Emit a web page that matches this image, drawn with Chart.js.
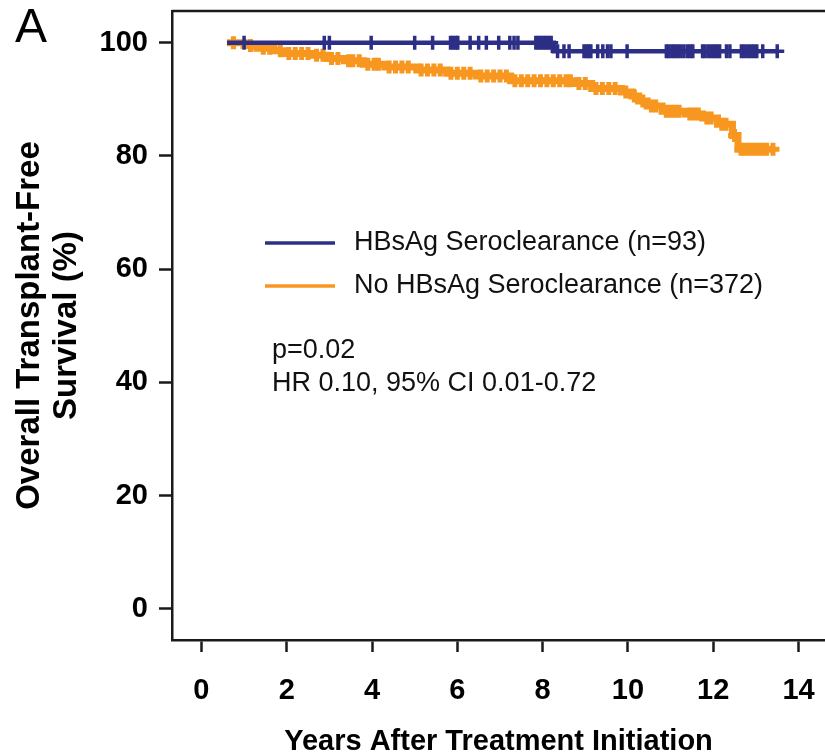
<!DOCTYPE html>
<html lang="en">
<head>
    <meta charset="UTF-8">
    <title>Overall Transplant-Free Survival</title>
    <script src="https://cdn.jsdelivr.net/npm/chart.js"></script>
    <style>
        body { margin: 0; background: #fff; overflow: hidden; }
        canvas { display: block; }
    </style>
</head>
<body>
    <canvas id="kmChart" width="825" height="756"></canvas>

    <script>
        // Kaplan-Meier steps: time (years) and survival (%) after each drop
        var seroTimes = [0.6, 8.26, 13.53];
        var seroSurv = [100, 98.5, 98.5];
        // censored times (the little + marks)
        var seroCensor = [1.0, 2.88, 3.0, 3.98, 5.0, 5.42, 5.84, 5.9, 5.96, 6.01, 6.3, 6.5, 6.68, 6.97,
            7.23, 7.33, 7.42, 7.84, 7.9, 7.96, 8.02, 8.08, 8.14, 8.2, 8.35, 8.5, 8.62, 8.97, 9.03, 9.08,
            9.13, 9.29, 9.41, 9.52, 9.6, 9.98, 10.9, 10.96, 11.03, 11.09, 11.16, 11.23, 11.31, 11.39,
            11.46, 11.52, 11.75, 11.81, 11.89, 11.96, 12.03, 12.09, 12.15, 12.31, 12.39, 12.66, 12.73,
            12.81, 12.88, 12.95, 13.02, 13.16, 13.5];

        var noSeroTimes = [0.6, 1.0, 1.3, 1.7, 1.95, 2.6, 2.95, 3.35, 3.8, 4.3, 5.05, 5.75, 6.45, 7.25,
            8.75, 9.15, 9.85, 10.1, 10.25, 10.45, 10.8, 11.35, 11.75, 12.1, 12.45, 12.58, 13.45];
        var noSeroSurv = [100, 99.5, 99.0, 98.6, 98.1, 97.8, 97.2, 96.8, 96.2, 95.7, 95.2, 94.6, 94.1, 93.3,
            92.8, 91.9, 91.3, 90.6, 89.7, 88.8, 87.9, 87.4, 86.7, 85.6, 83.6, 81.2, 81.2];
        var noSeroCensor = [0.75, 1.15, 1.45, 1.6, 1.85, 2.05, 2.2, 2.35, 2.5, 2.7, 2.85, 3.05, 3.2, 3.45,
            3.55, 3.7, 3.9, 4.05, 4.15, 4.4, 4.55, 4.7, 4.85, 5.15, 5.3, 5.45, 5.6, 5.85, 6.0, 6.15, 6.3,
            6.55, 6.7, 6.85, 7.0, 7.15, 7.35, 7.5, 7.65, 7.8, 7.95, 8.1, 8.25, 8.4, 8.55, 8.65, 8.85, 9.0,
            9.25, 9.4, 9.55, 9.7, 9.95, 10.15, 10.35, 10.55, 10.65, 10.9, 11.0, 11.1, 11.2, 11.45, 11.55,
            11.65, 11.85, 11.95, 12.2, 12.3, 12.5, 12.65, 12.75, 12.85, 12.95, 13.05, 13.15, 13.25, 13.4];

        var xTicks = [0, 2, 4, 6, 8, 10, 12, 14];
        var yTicks = [0, 20, 40, 60, 80, 100];
        var seriesLabels = ['HBsAg Seroclearance (n=93)', 'No HBsAg Seroclearance (n=372)'];
        var statLines = ['p=0.02', 'HR 0.10, 95% CI 0.01-0.72'];
        var panelLetter = 'A';

        var blue = '#2d2f86';
        var orange = '#f8971f';
        var fontFamily = '"Liberation Sans", Arial, sans-serif';

        function toPoints(times, surv) {
            return times.map(function (t, i) { return { x: t, y: surv[i] }; });
        }

        // survival of the step curve at time t (where a censor mark sits)
        function survAt(times, surv, t) {
            var s = surv[0];
            for (var i = 0; i < times.length; i++) {
                if (times[i] <= t) s = surv[i];
            }
            return s;
        }

        function censorPoints(censor, times, surv) {
            return censor.map(function (t) { return { x: t, y: survAt(times, surv, t) }; });
        }

        // top frame line, legend, stats text and panel letter
        var extrasPlugin = {
            id: 'extras',
            afterDatasetsDraw: function (chart) {
                var ctx = chart.ctx;
                var area = chart.chartArea;
                ctx.save();
                ctx.strokeStyle = '#1a1a1a';
                ctx.lineWidth = 2.5;
                ctx.beginPath();
                ctx.moveTo(area.left, area.top);
                ctx.lineTo(area.right, area.top);
                ctx.stroke();

                var legendColors = [blue, orange];
                ctx.font = '27px ' + fontFamily;
                ctx.textBaseline = 'middle';
                ctx.fillStyle = '#111';
                for (var i = 0; i < seriesLabels.length; i++) {
                    var ly = 243 + i * 43;
                    ctx.strokeStyle = legendColors[i];
                    ctx.lineWidth = 3.5;
                    ctx.beginPath();
                    ctx.moveTo(265, ly);
                    ctx.lineTo(335, ly);
                    ctx.stroke();
                    ctx.fillText(seriesLabels[i], 354, ly);
                }
                for (var j = 0; j < statLines.length; j++) {
                    ctx.fillText(statLines[j], 272, 351 + j * 33);
                }
                ctx.font = '48px ' + fontFamily;
                ctx.fillStyle = '#000';
                ctx.fillText(panelLetter, 15, 29);
                ctx.restore();
            }
        };

        var tickFont = { family: fontFamily, size: 29, weight: 'bold' };

        var ctx = document.getElementById('kmChart').getContext('2d');
        var chart = new Chart(ctx, {
            type: 'scatter',
            data: {
                datasets: [
                    {
                        label: seriesLabels[0],
                        data: toPoints(seroTimes, seroSurv),
                        showLine: true,
                        stepped: 'before',
                        borderColor: blue,
                        borderWidth: 4.5,
                        pointRadius: 0
                    },
                    {
                        label: seriesLabels[0] + ' censored',
                        data: censorPoints(seroCensor, seroTimes, seroSurv),
                        showLine: false,
                        pointStyle: 'cross',
                        pointRadius: 7,
                        borderColor: blue,
                        borderWidth: 3.5
                    },
                    {
                        label: seriesLabels[1],
                        data: toPoints(noSeroTimes, noSeroSurv),
                        showLine: true,
                        stepped: 'before',
                        borderColor: orange,
                        borderWidth: 7,
                        pointRadius: 0
                    },
                    {
                        label: seriesLabels[1] + ' censored',
                        data: censorPoints(noSeroCensor, noSeroTimes, noSeroSurv),
                        showLine: false,
                        pointStyle: 'cross',
                        pointRadius: 6.5,
                        borderColor: orange,
                        borderWidth: 5
                    }
                ]
            },
            options: {
                responsive: false,
                animation: false,
                layout: {
                    autoPadding: false,
                    padding: { top: 11, right: 0, left: 0, bottom: 0 }
                },
                plugins: {
                    legend: { display: false },
                    tooltip: { enabled: false }
                },
                scales: {
                    x: {
                        type: 'linear',
                        min: -0.69,
                        max: 14.62,
                        afterBuildTicks: function (scale) {
                            scale.ticks = xTicks.map(function (v) { return { value: v }; });
                        },
                        afterFit: function (scale) {
                            scale.height = 116;
                            scale.paddingLeft = 0;
                            scale.paddingRight = 0;
                        },
                        grid: {
                            drawOnChartArea: false,
                            drawTicks: true,
                            tickLength: 12,
                            tickWidth: 2.5,
                            tickColor: '#1a1a1a'
                        },
                        border: { display: true, color: '#1a1a1a', width: 2.5 },
                        ticks: {
                            color: '#000',
                            font: tickFont,
                            padding: 22,
                            maxRotation: 0
                        },
                        title: {
                            display: true,
                            text: 'Years After Treatment Initiation',
                            color: '#000',
                            font: { family: fontFamily, size: 29, weight: 'bold', lineHeight: 1 },
                            padding: { top: 0, bottom: 0 }
                        }
                    },
                    y: {
                        min: -5.5,
                        max: 105.6,
                        afterBuildTicks: function (scale) {
                            scale.ticks = yTicks.map(function (v) { return { value: v }; });
                        },
                        afterFit: function (scale) {
                            scale.width = 172;
                            scale.paddingTop = 0;
                            scale.paddingBottom = 0;
                        },
                        grid: {
                            drawOnChartArea: false,
                            drawTicks: true,
                            tickLength: 13,
                            tickWidth: 2.5,
                            tickColor: '#1a1a1a'
                        },
                        border: { display: true, color: '#1a1a1a', width: 2.5 },
                        ticks: {
                            color: '#000',
                            font: tickFont,
                            padding: 11
                        },
                        title: {
                            display: true,
                            text: ['Overall Transplant-Free', 'Survival (%)'],
                            color: '#000',
                            font: { family: fontFamily, size: 33, weight: 'bold', lineHeight: 1.1 },
                            padding: { top: 12, bottom: 0 }
                        }
                    }
                }
            },
            plugins: [extrasPlugin]
        });
    </script>
</body>
</html>
